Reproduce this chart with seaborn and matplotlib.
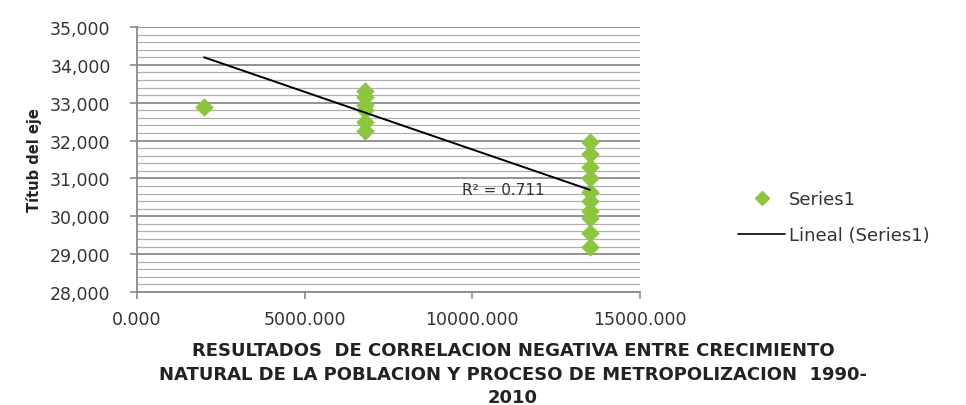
import matplotlib
matplotlib.use("Agg")
import matplotlib.pyplot as plt
import matplotlib.ticker as mticker
from matplotlib.lines import Line2D
import seaborn as sns
import pandas as pd

# ---- data ----
x_vals = [2000,
          6800, 6800, 6800, 6800, 6800, 6800,
          13500, 13500, 13500, 13500, 13500, 13500, 13500, 13500, 13500, 13500]
y_vals = [32900,
          33300, 33150, 32950, 32800, 32500, 32250,
          31950, 31650, 31300, 31000, 30650, 30400, 30150, 29950, 29550, 29200]
trend_x = [2000, 13500]
trend_y = [34200, 30700]
r2_text = "R² = 0.711"
series_name = "Series1"
trend_name = "Lineal (Series1)"
y_label = "Títub del eje"
x_label = ("RESULTADOS  DE CORRELACION NEGATIVA ENTRE CRECIMIENTO\n"
           "NATURAL DE LA POBLACION Y PROCESO DE METROPOLIZACION  1990-\n"
           "2010")
x_ticks = [0, 5000, 10000, 15000]
y_ticks = [28000, 29000, 30000, 31000, 32000, 33000, 34000, 35000]

sns.set_theme(style="white")
plt.rcParams['font.family'] = ['DejaVu Sans']

df = pd.DataFrame({"x": x_vals, "y": y_vals})
tdf = pd.DataFrame({"x": trend_x, "y": trend_y})

fig = plt.figure(figsize=(9.66, 4.06), dpi=100)
ax = fig.add_axes([137/966, 1-293/406, (640-137)/966, (293-28)/406])

green = "#8CC63F"
sns.scatterplot(data=df, x="x", y="y", ax=ax, marker="D", s=75, color=green,
                edgecolor=green, linewidth=0.8, zorder=3, legend=False)
sns.lineplot(data=tdf, x="x", y="y", ax=ax, color="black", linewidth=1.4,
             zorder=4, legend=False)

ax.set_xlim(0, 15000)
ax.set_ylim(28000, 35000)
ax.set_xticks(x_ticks)
ax.set_yticks(y_ticks)
ax.yaxis.set_minor_locator(mticker.MultipleLocator(200))
ax.xaxis.set_major_formatter(mticker.FuncFormatter(lambda v, p: f"{v:.3f}"))
ax.yaxis.set_major_formatter(mticker.FuncFormatter(lambda v, p: f"{v:,.0f}"))

ax.grid(True, which="major", axis="y", color="#8a8a8a", linewidth=1.3)
ax.grid(True, which="minor", axis="y", color="#b0b0b0", linewidth=0.9)
ax.grid(False, axis="x")
ax.set_axisbelow(True)

for s in ["top", "right"]:
    ax.spines[s].set_visible(False)
for s in ["left", "bottom"]:
    ax.spines[s].set_visible(True)
    ax.spines[s].set_color("#8a8a8a")
    ax.spines[s].set_linewidth(1.3)

ax.tick_params(axis="y", which="major", left=True, length=5, width=1.2,
               color="#8a8a8a", pad=14, labelsize=12.5, labelcolor="#333333")
ax.tick_params(axis="y", which="minor", left=False)
ax.tick_params(axis="x", which="major", bottom=True, length=5, width=1.2,
               color="#8a8a8a", pad=8, labelsize=12.5, labelcolor="#333333")

ax.set_ylabel(y_label, fontsize=10.5, fontweight="bold", color="#222222",
              labelpad=6)
ax.set_xlabel("")
fig.text(513/966, 1-342/406, x_label, ha="center", va="top", fontsize=13,
         fontweight="bold", color="#222222", linespacing=1.4)

ax.text(9700, 30720, r2_text, ha="left", va="center", fontsize=11,
        color="#333333", zorder=5)

handles = [
    Line2D([], [], marker="D", linestyle="none", markersize=7,
           color=green, markeredgecolor=green),
    Line2D([], [], color="black", linewidth=1.2),
]
fig.legend(handles, [series_name, trend_name], loc="center left",
           bbox_to_anchor=(722/966, 1-218/406), frameon=False, fontsize=13,
           handlelength=2.6, handletextpad=0.2, labelspacing=1.0,
           labelcolor="#333333")

fig.savefig("out.png", dpi=100)
